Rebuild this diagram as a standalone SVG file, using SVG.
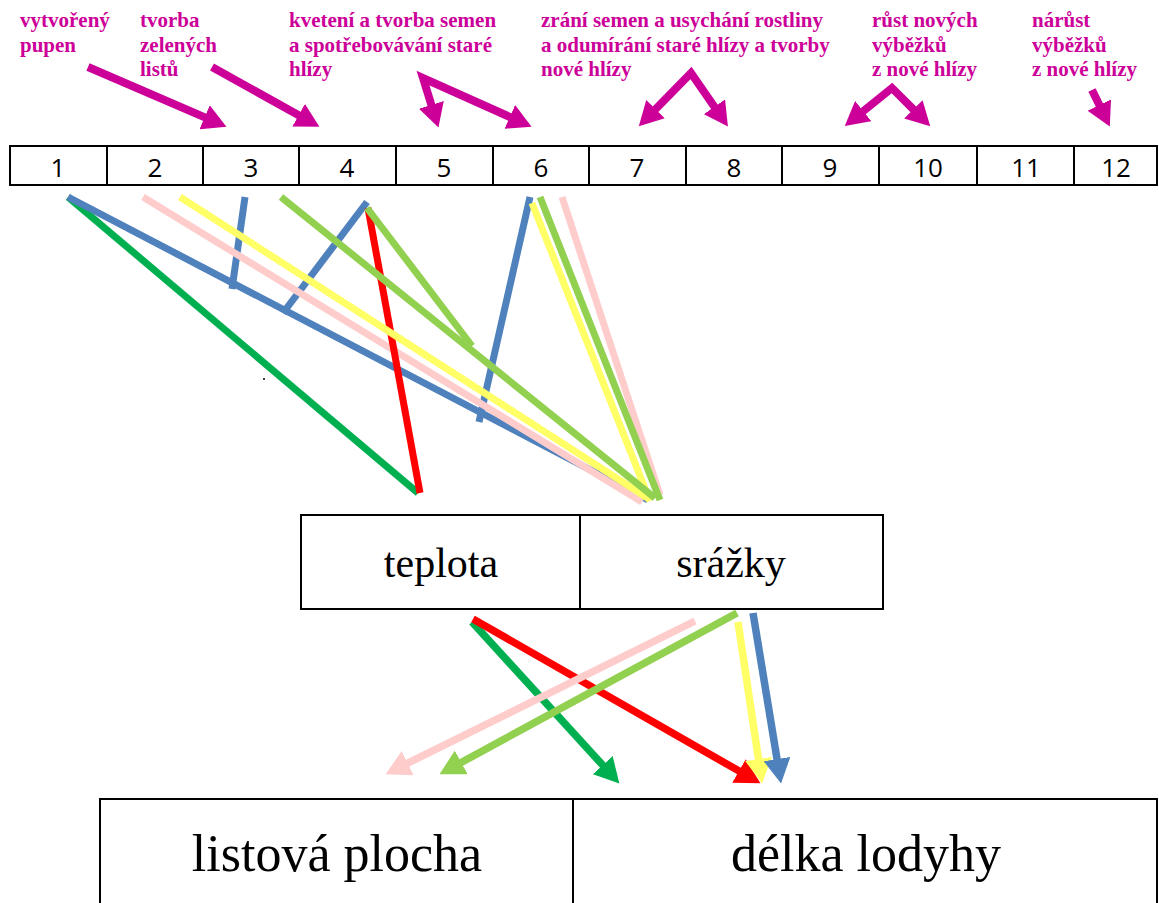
<svg xmlns="http://www.w3.org/2000/svg" width="1159" height="903" viewBox="0 0 1159 903">
<style>
.lbl{font-family:"Liberation Serif","Times New Roman",serif;font-weight:bold;font-size:21px;fill:#CC0099}
.num{font-family:"Open Sans","Liberation Sans",sans-serif;font-size:26px;fill:#000;text-anchor:middle}
.box{fill:#fff;stroke:#000;stroke-width:2}
.mid{font-family:"Liberation Serif","Times New Roman",serif;font-size:42px;fill:#000;text-anchor:middle}
.big{font-family:"Liberation Serif","Times New Roman",serif;font-size:52px;fill:#000;text-anchor:middle}
.mg{stroke:#CC0099;stroke-width:8;fill:none;marker-end:url(#mM)}
.v{stroke:#CC0099;stroke-width:8;fill:none;stroke-linejoin:miter;marker-start:url(#mM);marker-end:url(#mM)}
.ln{stroke-width:7;fill:none}
.ar{stroke-width:7.5;fill:none}
</style>
<defs>
<marker id="mM" markerUnits="userSpaceOnUse" markerWidth="26" markerHeight="26" refX="2" refY="12" orient="auto-start-reverse" viewBox="0 0 24 24"><path d="M0,0L22,12L0,24z" fill="#CC0099"/></marker>
<marker id="mRed" markerUnits="userSpaceOnUse" markerWidth="27" markerHeight="27" refX="2" refY="12" orient="auto" viewBox="0 0 24 24"><path d="M0,0L22,12L0,24z" fill="#FF0000"/></marker>
<marker id="mGrn" markerUnits="userSpaceOnUse" markerWidth="27" markerHeight="27" refX="2" refY="12" orient="auto" viewBox="0 0 24 24"><path d="M0,0L22,12L0,24z" fill="#00B050"/></marker>
<marker id="mPink" markerUnits="userSpaceOnUse" markerWidth="27" markerHeight="27" refX="2" refY="12" orient="auto" viewBox="0 0 24 24"><path d="M0,0L22,12L0,24z" fill="#FFCCCC"/></marker>
<marker id="mLg" markerUnits="userSpaceOnUse" markerWidth="27" markerHeight="27" refX="2" refY="12" orient="auto" viewBox="0 0 24 24"><path d="M0,0L22,12L0,24z" fill="#92D050"/></marker>
<marker id="mYel" markerUnits="userSpaceOnUse" markerWidth="27" markerHeight="27" refX="2" refY="12" orient="auto" viewBox="0 0 24 24"><path d="M0,0L22,12L0,24z" fill="#FFFF66"/></marker>
<marker id="mBlue" markerUnits="userSpaceOnUse" markerWidth="27" markerHeight="27" refX="2" refY="12" orient="auto" viewBox="0 0 24 24"><path d="M0,0L22,12L0,24z" fill="#4F81BD"/></marker>
</defs>
<rect width="1159" height="903" fill="#fff"/>

<g id="labels">
<text class="lbl" x="20" y="27">vytvořený</text>
<text class="lbl" x="20" y="52">pupen</text>
<text class="lbl" x="140" y="27">tvorba</text>
<text class="lbl" x="140" y="52">zelených</text>
<text class="lbl" x="140" y="76">listů</text>
<text class="lbl" x="289" y="27">kvetení a tvorba semen</text>
<text class="lbl" x="289" y="52">a spotřebovávání staré</text>
<text class="lbl" x="289" y="76">hlízy</text>
<text class="lbl" x="541" y="27">zrání semen a usychání rostliny</text>
<text class="lbl" x="541" y="52">a odumírání staré hlízy a tvorby</text>
<text class="lbl" x="541" y="76">nové hlízy</text>
<text class="lbl" x="872" y="27">růst nových</text>
<text class="lbl" x="872" y="52">výběžků</text>
<text class="lbl" x="872" y="76">z nové hlízy</text>
<text class="lbl" x="1032" y="27">nárůst</text>
<text class="lbl" x="1032" y="52">výběžků</text>
<text class="lbl" x="1032" y="76">z nové hlízy</text>
</g>

<g id="months">
<rect class="box" x="10" y="146" width="1147" height="39"/>
<path d="M107,146V185M203,146V185M299,146V185M396,146V185M493,146V185M589,146V185M686,146V185M782,146V185M879,146V185M977,146V185M1074,146V185" stroke="#000" stroke-width="2"/>
<text class="num" x="58" y="177">1</text>
<text class="num" x="155" y="177">2</text>
<text class="num" x="251" y="177">3</text>
<text class="num" x="347" y="177">4</text>
<text class="num" x="444" y="177">5</text>
<text class="num" x="541" y="177">6</text>
<text class="num" x="637" y="177">7</text>
<text class="num" x="734" y="177">8</text>
<text class="num" x="830" y="177">9</text>
<text class="num" x="928" y="177">10</text>
<text class="num" x="1026" y="177">11</text>
<text class="num" x="1116" y="177">12</text>
</g>

<g id="factors">
<rect class="box" x="301" y="515" width="582" height="94"/>
<line x1="580" y1="515" x2="580" y2="609" stroke="#000" stroke-width="2"/>
<text class="mid" x="441" y="577">teplota</text>
<text class="mid" x="731" y="577">srážky</text>
</g>

<g id="traits">
<rect class="box" x="100" y="799" width="1057" height="130"/>
<line x1="573" y1="799" x2="573" y2="903" stroke="#000" stroke-width="2"/>
<text class="big" x="337" y="871">listová plocha</text>
<text class="big" x="866" y="871">délka lodyhy</text>
</g>

<g id="connectors">
<g id="phase-arrows">
<line class="mg" x1="88" y1="67" x2="206.6" y2="118.1"/>
<line class="mg" x1="212" y1="67" x2="300.5" y2="116.3"/>
<path class="v" d="M432,106.9L423,78L511.8,117.8"/>
<path class="v" d="M654,110.7L691,73L715.6,108.6"/>
<path class="v" d="M861.6,112.5L892,88L914.9,110.9"/>
<line class="mg" x1="1092" y1="90" x2="1100.3" y2="107"/>
</g>
<g id="month-links">
<line class="ln" stroke="#00B050" x1="68" y1="197" x2="418" y2="493"/>
<line class="ln" stroke="#4F81BD" x1="68" y1="197" x2="648" y2="500"/>
<line class="ln" stroke="#4F81BD" x1="245" y1="197" x2="232" y2="289"/>
<line class="ln" stroke="#4F81BD" x1="367" y1="202" x2="283" y2="313"/>
<line class="ln" stroke="#4F81BD" x1="530" y1="197" x2="479" y2="422"/>
<line class="ln" stroke="#FFCCCC" x1="143" y1="197" x2="642" y2="502"/>
<line class="ln" stroke="#FFCCCC" x1="562" y1="197" x2="660" y2="495"/>
<line class="ln" stroke="#FF0000" x1="368" y1="208" x2="420" y2="493"/>
<line class="ln" stroke="#FFFF66" x1="180" y1="197" x2="649" y2="499"/>
<line class="ln" stroke="#FFFF66" x1="532" y1="203" x2="650" y2="501"/>
<line class="ln" stroke="#92D050" x1="281" y1="197" x2="655" y2="498"/>
<line class="ln" stroke="#92D050" x1="367" y1="208" x2="472" y2="346"/>
<line class="ln" stroke="#92D050" x1="540" y1="197" x2="660" y2="500"/>
<circle cx="264" cy="379" r="1" fill="#000"/>
</g>
<g id="factor-links">
<line class="ar" stroke="#00B050" marker-end="url(#mGrn)" x1="472" y1="622" x2="604.2" y2="766.8"/>
<line class="ar" stroke="#FF0000" marker-end="url(#mRed)" x1="473" y1="619" x2="740.9" y2="772.1"/>
<line class="ar" stroke="#FFCCCC" marker-end="url(#mPink)" x1="695" y1="621" x2="405.7" y2="764.2"/>
<line class="ar" stroke="#92D050" marker-end="url(#mLg)" x1="737" y1="613" x2="459.3" y2="763.5"/>
<line class="ar" stroke="#FFFF66" marker-end="url(#mYel)" x1="738" y1="622" x2="758.8" y2="761.2"/>
<line class="ar" stroke="#4F81BD" marker-end="url(#mBlue)" x1="753" y1="613" x2="777.4" y2="761.3"/>
</g>
</g>
</svg>
